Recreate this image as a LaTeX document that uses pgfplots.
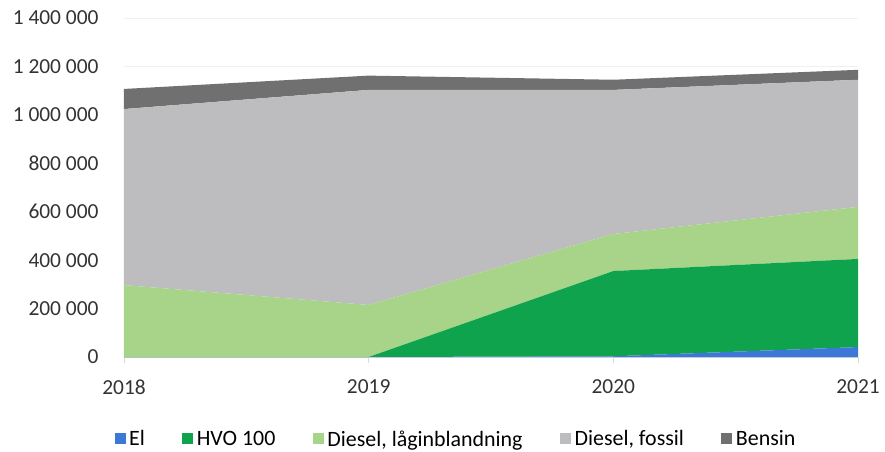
\documentclass[border=0pt]{standalone}
\usepackage{pgfplots}
\pgfplotsset{compat=1.18}
\usepackage{fontspec}
\setmainfont{Carlito}
\definecolor{cEl}{HTML}{3C78D8}
\definecolor{cHVO}{HTML}{0FA34D}
\definecolor{cLag}{HTML}{A8D48A}
\definecolor{cFos}{HTML}{BDBDBF}
\definecolor{cBen}{HTML}{707070}
\begin{document}
\begin{tikzpicture}
\path[use as bounding box] (-124bp,-95bp) rectangle (761bp,357bp);
\begin{axis}[
  scale only axis,
  width=734bp, height=339bp,
  xmin=2018, xmax=2021, ymin=0, ymax=1400000,
  xtick={2018,2019,2020,2021},
  ytick={0,200000,400000,600000,800000,1000000,1200000,1400000},
  xticklabel style={/pgf/number format/1000 sep={}, yshift=-13bp},
  yticklabel style={/pgf/number format/fixed, /pgf/number format/1000 sep={\ }, xshift=-16bp},
  /pgf/number format/assume math mode=true,
  scaled y ticks=false,
  font=\fontsize{21.5}{25}\selectfont,
  tick label style={text=black!80},
  axis x line*=bottom, axis y line*=left,
  y axis line style={draw=none},
  ytick style={draw=none},
  x axis line style={draw=black!15, line width=0.8pt},
  xtick style={draw=black!15, line width=0.8pt},
  tick align=outside, major tick length=6bp,
  ymajorgrids, grid style={draw=black!6, line width=0.6pt},
  stack plots=y,
  legend columns=5,
  legend style={draw=none, fill=none, at={(0.452,-0.242)}, anchor=center,
    nodes={inner sep=1.5bp},
    font=\fontsize{22}{26}\selectfont, /tikz/every odd column/.append style={column sep=2bp},
    /tikz/every even column/.append style={column sep=36bp}},
  legend image code/.code={\fill[#1] (0bp,-5bp) rectangle (11bp,6bp);},
]
\addplot[fill=cEl, draw=none] coordinates {(2018,0) (2019,0) (2020,3000) (2021,41000)} \closedcycle;
\addlegendentry{El}
\addplot[fill=cHVO, draw=none] coordinates {(2018,0) (2019,0) (2020,352000) (2021,364000)} \closedcycle;
\addlegendentry{HVO 100}
\addplot[fill=cLag, draw=none] coordinates {(2018,297000) (2019,215000) (2020,153000) (2021,215000)} \closedcycle;
\addlegendentry{Diesel, låginblandning}
\addplot[fill=cFos, draw=none] coordinates {(2018,727000) (2019,888000) (2020,595000) (2021,525000)} \closedcycle;
\addlegendentry{Diesel, fossil}
\addplot[fill=cBen, draw=none] coordinates {(2018,83000) (2019,59000) (2020,42000) (2021,41000)} \closedcycle;
\addlegendentry{Bensin}
\end{axis}
\end{tikzpicture}
\end{document}
